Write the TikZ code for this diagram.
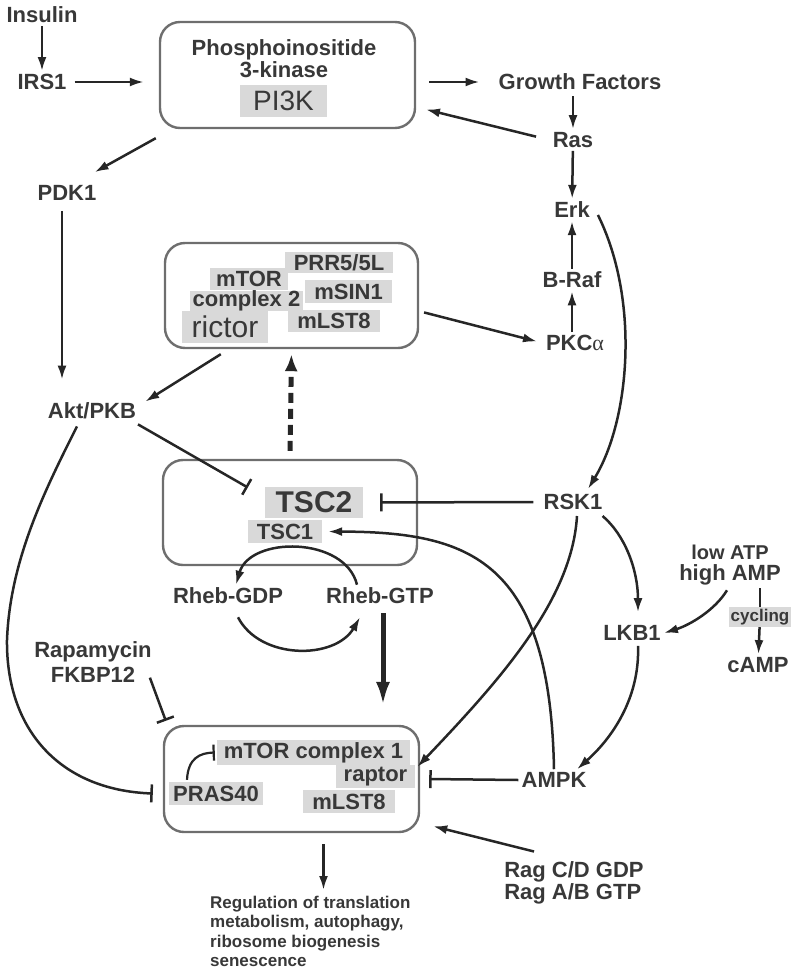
\documentclass[tikz,border=0pt]{standalone}
\usepackage{fontspec}
\setmainfont{Liberation Sans}
\newfontfamily\greekf{Liberation Serif}
\usetikzlibrary{arrows.meta}
\definecolor{ink}{HTML}{262626}
\definecolor{txt}{HTML}{383838}
\definecolor{frame}{HTML}{6E6E6E}
\definecolor{shade}{HTML}{D9D9D9}

\begin{document}
\begin{tikzpicture}[x=1pt,y=-1pt,
  lbl/.style={text=txt,font=\bfseries\fontsize{22}{24}\selectfont,inner sep=3pt},
  hl/.style={lbl,fill=shade,inner sep=0pt},
  cbox/.style={draw=frame,line width=2.4pt,rounded corners=20pt},
  act/.style={draw=ink,line width=2.5pt,-{Latex[length=14pt,width=9pt]}},
  inh/.style={draw=ink,line width=2.5pt,-{Bar[width=18pt]}},
  dsh/.style={draw=ink,line width=5pt,dash pattern=on 10pt off 6pt,-{Latex[length=17pt,width=13pt]}}]
\useasboundingbox (0,0) rectangle (793,969);

\node[lbl] (insulin) at (42,15) {Insulin};
\node[lbl] (irs1) at (42,82) {IRS1};
\node[cbox,minimum width=255,minimum height=106] (pi3k) at (287.5,75) {};
\node[lbl,align=center,font=\bfseries\fontsize{22}{20}\selectfont] (phos) at (284,58.5) {Phosphoinositide\\3-kinase};
\node[hl,minimum width=87,minimum height=32,font=\fontsize{28}{30}\selectfont] (pik) at (283.5,101) {PI3K};
\node[lbl] (gf) at (580,82) {Growth Factors};
\node[lbl] (ras) at (573,140) {Ras};
\node[lbl] (erk) at (572,210) {Erk};
\node[lbl] (braf) at (572,280) {B-Raf};
\node[lbl] (pkc) at (575,343) {PKC{\greekf\mdseries α}};
\node[lbl] (pdk1) at (67,193) {PDK1};
\node[lbl] (akt) at (92,411) {Akt/PKB};

\node[cbox,minimum width=253,minimum height=105] (c2box) at (291.5,295.5) {};
\node[hl,minimum width=108,minimum height=21] (prr5) at (339,262.5) {PRR5/5L};
\node[hl,minimum width=78,minimum height=22] (mtor2) at (249,278.5) {mTOR};
\node[hl,minimum width=113,minimum height=18] (cplx2) at (246.5,301) {complex 2};
\node[hl,minimum width=87,minimum height=23] (msin1) at (348.5,291.5) {mSIN1};
\node[hl,minimum width=86,minimum height=32,font=\fontsize{30}{32}\selectfont] (rictor) at (225,327) {rictor};
\node[hl,minimum width=92,minimum height=22] (mlst8a) at (334,321) {mLST8};

\node[cbox,minimum width=254,minimum height=105] (tscbox) at (290,512.5) {};
\node[hl,minimum width=98,minimum height=31,font=\bfseries\fontsize{30}{32}\selectfont] (tsc2) at (314,502.5) {TSC2};
\node[hl,minimum width=74,minimum height=23] (tsc1) at (285,531.5) {TSC1};
\node[lbl] (gdp) at (228,596) {Rheb-GDP};
\node[lbl] (gtp) at (380,596) {Rheb-GTP};

\node[lbl] (rsk1) at (573,502) {RSK1};
\node[lbl] (lkb1) at (632,633) {LKB1};
\node[lbl,align=center,font=\bfseries\fontsize{22}{21}\selectfont] (energy) at (730,565) {{\fontsize{20}{21}\selectfont low ATP}\\high AMP};
\node[hl,minimum width=62,minimum height=20,font=\bfseries\fontsize{17}{18}\selectfont] (cyc) at (760,617) {cycling};
\node[lbl] (camp) at (758,665) {cAMP};
\node[lbl,align=center,font=\bfseries\fontsize{22}{25}\selectfont] (rapa) at (93,662) {Rapamycin\\FKBP12};

\node[cbox,minimum width=255,minimum height=106] (c1box) at (291.5,779) {};
\node[hl,minimum width=193,minimum height=25] (mtorc1) at (313.5,752.5) {mTOR complex 1};
\node[hl,minimum width=79,minimum height=23] (raptor) at (375.5,776.5) {raptor};
\node[hl,minimum width=94,minimum height=23] (pras40) at (216,793.5) {PRAS40};
\node[hl,minimum width=92,minimum height=23] (mlst8b) at (349,801.5) {mLST8};
\node[lbl] (ampk) at (554,780) {AMPK};
\node[lbl,align=left,font=\bfseries\fontsize{22}{22}\selectfont] (rag) at (574,883) {Rag C/D GDP\\Rag A/B GTP};
\node[lbl,align=left,anchor=north west,font=\bfseries\fontsize{17}{19.3}\selectfont] (reg) at (207,893) {Regulation of translation\\metabolism, autophagy,\\ribosome biogenesis\\senescence};

\draw[act] (insulin) -- (irs1);
\draw[act,shorten <=5pt,shorten >=15pt] (irs1.east) -- (irs1 -| pi3k.west);
\draw[act,shorten <=13pt,shorten >=16pt] (gf -| pi3k.east) -- (gf.west);
\draw[act,shorten <=14pt,shorten >=10pt] (ras.west) -- (pi3k.-14);
\draw[act,shorten <=3pt] (ras |- gf.south) -- (ras.north);
\draw[act] (ras) -- (erk);
\draw[act] (braf) -- (erk);
\draw[act] (braf |- pkc.north) -- (braf.south);
\draw[act,shorten <=5pt,shorten >=6pt] (c2box.-7) -- (pkc.west);
\draw[act] ([shift={(-3,9)}]pi3k.south west) -- ([shift={(-5,-10)}]pdk1.north east);
\draw[act,shorten <=7pt,shorten >=20pt] ([xshift=-5pt]pdk1.south) -- ([xshift=-5pt]pdk1.south |- akt.north);
\draw[act] ([shift={(57,5)}]c2box.south west) -- ([shift={(6,2)}]akt.north east);
\draw[dsh,shorten <=8pt,shorten >=5pt] (tscbox.north) -- (c2box.south);
\draw[inh,shorten <=4pt] (akt.-15) -- ([shift={(-17,-15)}]tsc2.west);
\draw[inh,shorten <=7pt,shorten >=17pt] (rsk1.west) -- (tsc2.east);
\draw[act] ([shift={(5,5)}]erk.east) .. controls (640,300) and (630,420) .. ([shift={(15,-2)}]rsk1.north);
\draw[act,shorten >=6pt] (ampk.north) .. controls (550,560) and (470,532) .. (tsc1.east);
\draw[act] ([shift={(4,3)}]rsk1.south) .. controls (572,600) and (500,680) .. ([shift={(-3,-12)}]c1box.east);
\draw[act,shorten >=10pt] ([shift={(-3,3)}]rsk1.south east) .. controls (625,535) and (638,570) .. ([xshift=6pt]lkb1.north);
\draw[act] ([shift={(-3,2)}]energy.south) .. controls (715,610) and (690,625) .. (lkb1.east);
\draw[draw=ink,line width=2.5pt] (cyc |- energy.south) -- (cyc.north);
\draw[act] (cyc) -- (camp);
\draw[act] ([shift={(6,2)}]lkb1.south) .. controls (640,700) and (610,740) .. ([xshift=23pt]ampk.north);
\draw[inh] (ampk.west) -- ([xshift=9pt]c1box.east);
\draw[act] ([shift={(-40,-7)}]rag.north) -- ([shift={(13,-7)}]c1box.south east);
\draw[act,shorten <=11pt,shorten >=3pt] ([xshift=32pt]c1box.south) -- ([xshift=32pt]c1box.south |- reg.north);
\draw[act] ([xshift=-23pt]gtp.north) .. controls (345,536) and (250,536) .. ([xshift=8pt]gdp.north);
\draw[act] ([shift={(10,10)}]gdp.south) .. controls (260,660) and (335,660) .. ([shift={(-20,10)}]gtp.south);
\draw[act,line width=5pt,-{Latex[length=24pt,width=14pt]},shorten <=6pt,shorten >=19pt] ([xshift=3pt]gtp.south) -- ([xshift=3pt]gtp.south |- c1box.north);
\draw[inh] ([shift={(-5,-8)}]rapa.south east) -- ([shift={(3,-4)}]c1box.north west);
\draw[inh] ([shift={(-15,4)}]akt.south) .. controls (45,490) and (10,560) .. (7,640) .. controls (6,730) and (60,790) .. ([xshift=-16pt]pras40.west);
\draw[inh,line width=2.2pt,-{Bar[width=16pt]}] ([shift={(-29,-2)}]pras40.north) .. controls (188,758) and (200,753) .. ([xshift=-2pt]mtorc1.west);
\end{tikzpicture}
\end{document}
